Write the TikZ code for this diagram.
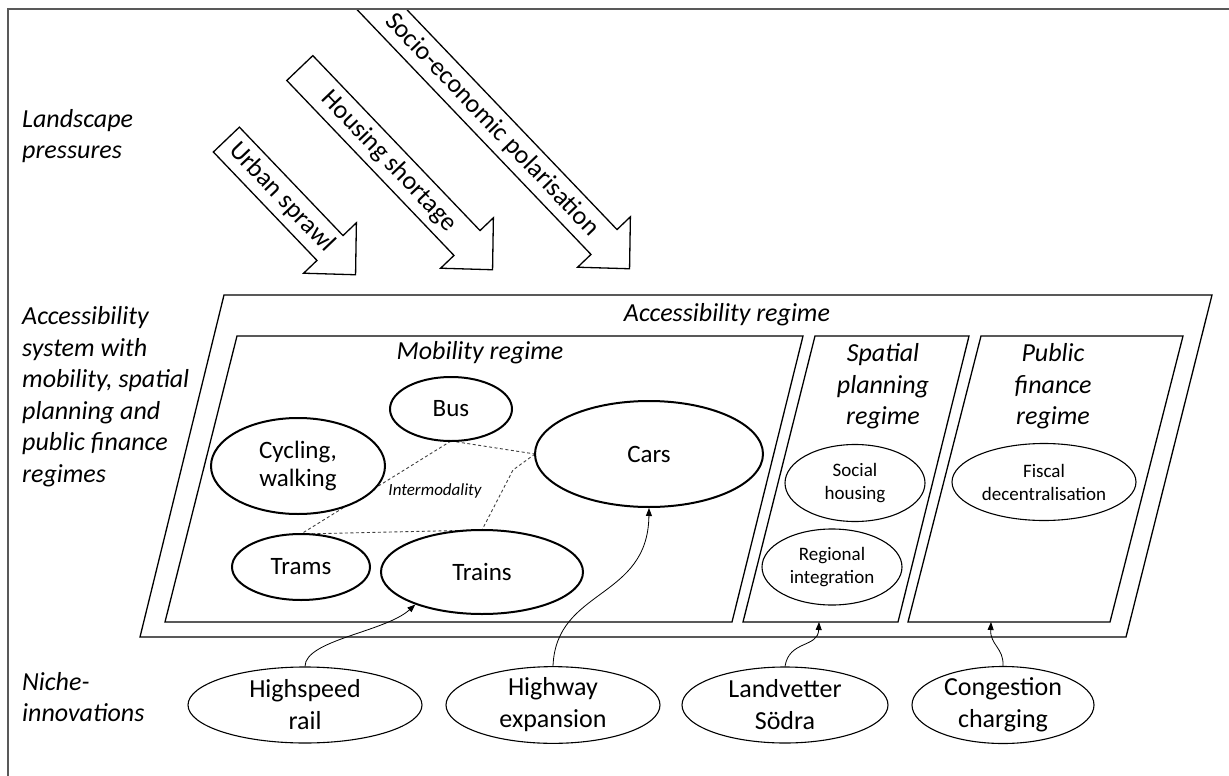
\documentclass[tikz,border=0pt]{standalone}
\usepackage{fontspec}
\setmainfont{Carlito}
\usetikzlibrary{shapes.geometric,arrows.meta}

\begin{document}
\begin{tikzpicture}[x=1pt,y=-1pt,
  mode/.style={ellipse,draw,line width=2pt,fill=white,inner sep=0pt,align=center,font=\fontsize{25}{28}\selectfont},
  sub/.style={ellipse,draw,line width=1.1pt,fill=white,inner sep=0pt,align=center,font=\fontsize{19}{23}\selectfont},
  niche/.style={ellipse,draw,line width=1.1pt,fill=white,inner sep=0pt,align=center,font=\fontsize{26}{32}\selectfont},
  panel/.style={draw,line width=1.3pt,line join=miter},
  tag/.style={font=\fontsize{26}{31.5}\selectfont\itshape,align=left,anchor=west,inner sep=0pt},
  title/.style={font=\fontsize{26}{31.5}\selectfont\itshape,align=center,inner sep=0pt},
  link/.style={-{Triangle[length=8pt,width=6pt]},line width=0.8pt},
  mesh/.style={dash pattern=on 3pt off 2.5pt,line width=0.9pt,draw=black!75},
  pressure/.style={draw,line width=1.3pt,fill=white,line join=miter},
  pressuretext/.style={transform shape,font=\fontsize{26}{30}\selectfont,inner sep=0pt},
]
\useasboundingbox (0,0) rectangle (1229,776);

% level labels on the left
\node[tag] (lland) at (22,136) {Landscape\\pressures};
\node[tag] (lacc) at (22,396.5) {Accessibility\\system with\\mobility, spatial\\planning and\\public finance\\regimes};
\node[tag] (lniche) at (22,697) {Niche-\\innovations};

% landscape pressure block arrows
\begin{scope}
  \clip (0,9) rectangle (1229,776);
  \begin{scope}[shift={(330,248)},rotate=-46.3]
    \draw[pressure] (-150,-18) -- (0,-18) -- (0,-36.5) -- (37,0) -- (0,36.5) -- (0,18) -- (-150,18) -- cycle;
    \node[pressuretext] (urban) at (-70,0) {Urban sprawl};
  \end{scope}
  \begin{scope}[shift={(467,243)},rotate=-46.3]
    \draw[pressure] (-242,-18) -- (0,-18) -- (0,-36.5) -- (37,0) -- (0,36.5) -- (0,18) -- (-242,18) -- cycle;
    \node[pressuretext] (housing) at (-113,0) {Housing shortage};
  \end{scope}
  \begin{scope}[shift={(604,242)},rotate=-46.3]
    \draw[pressure] (-360,-18) -- (0,-18) -- (0,-36.5) -- (37,0) -- (0,36.5) -- (0,18) -- (-360,18) -- cycle;
    \node[pressuretext] (socio) at (-162,0) {Socio-economic polarisation};
  \end{scope}
\end{scope}

% outer frame (top and left edges)
\draw[line width=1.6pt,draw=black!65] (8,800) -- (8,9) -- (1240,9);

% regime panels
\draw[panel] (224,295) -- (1212,295) -- (1126,637) -- (140,637) -- cycle;
\draw[panel] (237,336) -- (803,336) -- (732,622) -- (165,622) -- cycle;
\draw[panel] (815,336) -- (969,336) -- (898,622) -- (743,622) -- cycle;
\draw[panel] (981,336) -- (1183,336) -- (1110,622) -- (908,622) -- cycle;
\coordinate (spB) at (819,622);
\coordinate (pfB) at (991,622);

\node[title] (tacc) at (727,315) {Accessibility regime};
\node[title] (tmob) at (480,353) {Mobility regime};
\node[title] (tspa) at (883,386.5) {Spatial\\planning\\regime};
\node[title] (tpub) at (1053,386.5) {Public\\finance\\regime};

% mobility modes
\coordinate (bussouth) at (451,441);
\coordinate (carswest) at (535,454);
\coordinate (tramsnorth) at (301,534);
\coordinate (trainsnorth) at (482,530);
\draw[mesh] (bussouth) -- (tramsnorth);
\draw[mesh] (tramsnorth) -- (trainsnorth);
\draw[mesh] (bussouth) -- (carswest);
\draw[mesh] (carswest) -- (513,470) -- (trainsnorth);

\node[mode,minimum width=122pt,minimum height=64pt] (bus) at (451,409) {Bus};
\node[mode,minimum width=174pt,minimum height=96pt] (cyc) at (298,466) {Cycling,\\walking};
\node[mode,minimum width=138pt,minimum height=66pt] (trams) at (301,567) {Trams};
\node[mode,minimum width=202pt,minimum height=84pt] (trains) at (482,572) {Trains};
\node[mode,minimum width=228pt,minimum height=106pt] (cars) at (649,454) {Cars};
\node[font=\fontsize{17}{19}\selectfont\itshape,inner sep=0pt] (inter) at (435,491) {Intermodality};

% spatial planning and public finance elements
\node[sub,minimum width=140pt,minimum height=77pt] (soc) at (855,483) {Social\\housing};
\node[sub,minimum width=140pt,minimum height=76pt] (reg) at (832,567) {Regional\\integration};
\node[sub,minimum width=184pt,minimum height=77pt] (fis) at (1044,482) {Fiscal\\decentralisation};

% niche innovations
\node[niche,minimum width=234pt,minimum height=76pt] (hs) at (305,705) {Highspeed\\rail};
\node[niche,minimum width=214pt,minimum height=76pt] (hw) at (553,705) {Highway\\expansion};
\node[niche,minimum width=206pt,minimum height=76pt] (lv) at (785,705) {Landvetter\\Södra};
\node[niche,minimum width=182pt,minimum height=76pt] (cc) at (1003,705) {Congestion\\charging};

% niche influences on the regimes
\draw[link] (hs.north) .. controls (305,640) and (385,632) .. (trains.206);
\draw[link] (hw.north) .. controls (556,588) and (648,600) .. (cars.south);
\draw[link] (lv.north) .. controls (789,640) and (818,648) .. (spB);
\draw[link] (cc.north) .. controls (1004,648) and (990,645) .. (pfB);

\end{tikzpicture}
\end{document}
